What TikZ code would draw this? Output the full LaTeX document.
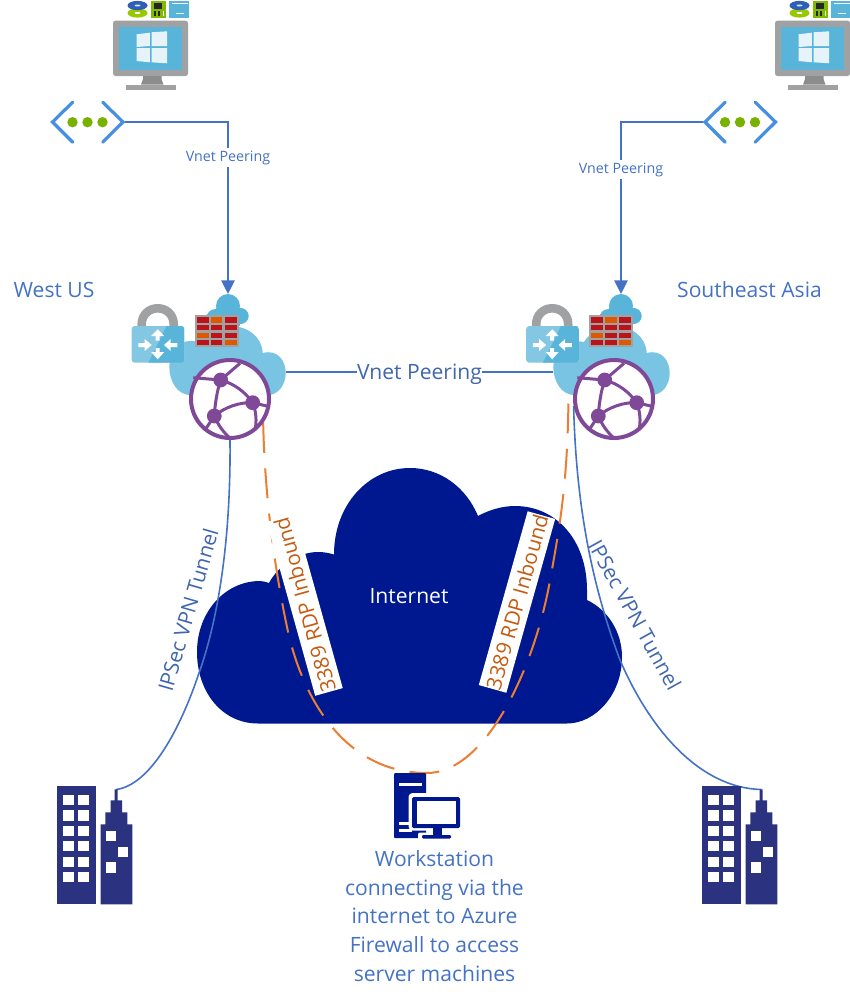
\documentclass[tikz,border=0pt]{standalone}
\usepackage{fontspec}
\setmainfont{Open Sans}
\usetikzlibrary{arrows.meta}

\definecolor{linkblue}{HTML}{4472C4}
\definecolor{textblue}{HTML}{3F66AE}
\definecolor{rdporange}{HTML}{ED7D31}
\definecolor{rdptext}{HTML}{C55A11}
\definecolor{netnavy}{HTML}{00188F}
\definecolor{bldnavy}{HTML}{2B3380}
\definecolor{azsky}{HTML}{59B4D9}
\definecolor{azpale}{HTML}{7AC4E3}
\definecolor{azgrey}{HTML}{A0A1A2}
\definecolor{azgreen}{HTML}{7FBA00}
\definecolor{azpurple}{HTML}{804998}
\definecolor{brickred}{HTML}{BA141A}
\definecolor{brickorange}{HTML}{DD5900}

\def\px{0.2mm}

\tikzset{
  iconspot/.style={inner sep=0pt,outer sep=0pt},
  peertext/.style={fill=white,inner sep=1.5pt,text=linkblue,font=\fontsize{8.1}{10}\selectfont},
  peermain/.style={fill=white,inner sep=0pt,text=textblue,yshift=-1.2pt,font=\fontsize{12}{14}\selectfont},
  regiontext/.style={inner sep=0pt,text=linkblue,font=\fontsize{12}{14}\selectfont},
  tunneltext/.style={inner sep=0pt,text=textblue,font=\fontsize{11.8}{14}\selectfont},
  rdptextbox/.style={fill=white,inner sep=0pt,text=rdptext,minimum width=180*\px,minimum height=28.6*\px,font=\fontsize{11.8}{13}\selectfont},
  peerline/.style={linkblue,line width=2*\px},
  tunnelline/.style={linkblue,line width=1.6*\px},
  rdpline/.style={rdporange,line width=2*\px,dash pattern=on 17pt off 8.8pt},
  vmicon/.pic={
    \fill[azgrey,rounded corners=2.5*\px] (-37.5,-27.3) rectangle (37.5,28);
    \fill[azsky] (-31.7,-21.3) rectangle (31.7,22);
    \fill[white!85!azsky] (-14,-13.7) -- (-0.7,-15.3) -- (-0.7,-2) -- (-14,-1) -- cycle;
    \fill[white!85!azsky] (1,-15.7) -- (16.7,-16.7) -- (16.7,-2) -- (1,-2) -- cycle;
    \fill[white!85!azsky] (-14,0) -- (-0.7,0) -- (-0.7,14.3) -- (-14,13) -- cycle;
    \fill[white!85!azsky] (1,0) -- (16.7,0) -- (16.7,15.3) -- (1,14.3) -- cycle;
    \fill[gray!90] (-7.5,28) -- (11,28) -- (11,31) -- (13,36.7) -- (-9.5,36.7) -- (-7.5,31) -- cycle;
    \fill[azgrey] (-24.5,36.7) rectangle (25.5,42);
    % parts above the monitor
    \fill[azgreen!80!yellow] (-13,-35) ellipse (10 and 4.6);
    \fill[white] (-13,-35) ellipse (3 and 1);
    \fill[blue!35!azsky!80!black] (-13,-42.5) ellipse (10 and 4.6);
    \fill[white!70!azsky] (-13,-42.5) ellipse (3 and 1);
    \fill[azgreen] (0,-47) rectangle (15,-30.3);
    \fill[black!85] (3,-45) rectangle (11,-39);
    \fill[black!85] (3,-37) rectangle (5,-32);
    \fill[black!85] (7.5,-37) rectangle (9,-32);
    \fill[white] (12,-37) rectangle (13.3,-32);
    \fill[azsky] (18,-47) rectangle (38,-30.3);
    \fill[white] (21,-45) rectangle (37,-44);
    \fill[white] (25,-35.5) rectangle (33,-34.7);
  },
  vneticon/.pic={
    \draw[azsky!80!blue,line width=3.2*\px,line cap=round,line join=miter] (-14.8,-19.3) -- (-35,0.5) -- (-14.8,20.7);
    \draw[azsky!80!blue,line width=3.2*\px,line cap=round,line join=miter] (15.2,-19.3) -- (35.5,0.5) -- (15.2,20.7);
    \foreach \dotx in {-15,0,15}
      \fill[azgreen!95!black] (\dotx,0.7) circle [radius=5.2];
  },
  lockicon/.pic={
    \draw[azgrey,line width=8.6*\px] (-16,-17) -- (-16,-20.7) .. controls (-16,-30) and (-9,-36.7) .. (0,-36.7) .. controls (9,-36.7) and (16,-30) .. (16,-20.7) -- (16,-17);
    \fill[azsky!75!white,rounded corners=3*\px] (-26,-19) rectangle (26.6,17.7);
    \begin{scope}
      \clip[rounded corners=3*\px] (-26,-19) rectangle (26.6,17.7);
      \fill[azsky] (-9.4,17.7) -- (8.9,-19) -- (26.6,-19) -- (26.6,17.7) -- cycle;
    \end{scope}
    \fill[white] (0,-15.7) -- (6.5,-9) -- (2,-9) -- (2,-4.5) -- (-2,-4.5) -- (-2,-9) -- (-6.5,-9) -- cycle;
    \fill[white] (0,14.3) -- (6.5,7) -- (2,7) -- (2,3) -- (-2,3) -- (-2,7) -- (-6.5,7) -- cycle;
    \fill[white] (-6,0) -- (-13,-6) -- (-13,-2) -- (-19.3,-2) -- (-19.3,2) -- (-13,2) -- (-13,6) -- cycle;
    \fill[white] (6.3,0) -- (13,-6) -- (13,-2) -- (19.7,-2) -- (19.7,2) -- (13,2) -- (13,6) -- cycle;
  },
  firewallicon/.pic={
    \fill[azgrey] (-22,-16) rectangle (21.7,16.3);
    % rows of bricks
    \foreach \ytop/\ybot/\ca/\cb/\cc in {-13.7/-8.3/brickred/brickorange/brickred,
        -6/-1/brickred/brickred/brickred,
        1.7/7/brickorange/brickred/brickred,
        9/14/brickred/brickred/brickorange}{
      \fill[\ca] (-20,\ytop) rectangle (-8,\ybot);
      \fill[\cb] (-6,\ytop) rectangle (5.3,\ybot);
      \fill[\cc] (7.7,\ytop) rectangle (19.7,\ybot);
    }
  },
  smallcloudicon/.pic={
    \fill[azsky] (0,0) circle [radius=12];
    \fill[azsky] (-12.5,12) circle [radius=9];
    \fill[azsky] (12.7,10) circle [radius=8];
    \fill[azsky] (-12,2) rectangle (12,20);
  },
  hubcloudicon/.pic={
    \fill[azpale] (-40,-4) .. controls (-52,-4) and (-60.7,-17) .. (-60.7,-32) .. controls (-60.7,-46) and (-52,-58) .. (-40,-58) .. controls (-36,-58) and (-33,-57.5) .. (-30,-57) .. controls (-24,-67) and (-12,-73) .. (0,-73) .. controls (18,-73) and (32,-62) .. (32.7,-46) .. controls (48,-50) and (55.7,-38) .. (55.7,-26) .. controls (55.7,-14) and (48,-4) .. (38,-4) -- cycle;
  },
  globeicon/.pic={
    \draw[azpurple,fill=white,line width=4*\px] (0,0) circle [radius=39];
    \begin{scope}[azpurple,line width=3*\px]
      \draw (-9.3,-19) -- (-36.7,-21.3);
      \draw (-9.3,-19) -- (10,-35.7);
      \draw (-9.3,-19) .. controls (5,-15) and (15,-7) .. (22.7,3.7);
      \draw (-9.3,-19) .. controls (-13,-8) and (-15,5) .. (-15.7,17);
      \draw (-15.7,17) .. controls (-5,8) and (10,3) .. (22.7,3.7);
      \draw (22.7,3.7) -- (36.7,7);
      \draw (22.7,3.7) .. controls (26,12) and (27,22) .. (25,31);
      \draw (-15.7,17) -- (-25,31);
      \draw (-15.7,17) .. controls (-12,26) and (-6,34) .. (0,39);
    \end{scope}
    \foreach \cx/\cy in {-9.3/-19,22.7/3.7,-15.7/17}
      \fill[azpurple] (\cx,\cy) circle [radius=7.4];
  },
  towericon/.pic={
    \fill[bldnavy] (-37.5,-59.3) rectangle (0.9,59.3);
    \foreach \wy in {-50,-34.7,-19.3,-4,11.7,27}{
      \fill[white] (-31.5,\wy) rectangle ++(10.4,10.3);
      \fill[white] (-16.5,\wy) rectangle ++(10.7,10.3);
    }
    \fill[bldnavy] (5.9,59.3) -- (5.9,-20.7) -- (10.5,-20.7) -- (10.5,-32.7) -- (15.9,-32.7) -- (15.9,-44.7) -- (19.9,-44.7) -- (19.9,-55.7) -- (22.9,-55.7) -- (22.9,-44.7) -- (27.2,-44.7) -- (27.2,-32.7) -- (32.5,-32.7) -- (32.5,-20.7) -- (37.5,-20.7) -- (37.5,59.3) -- cycle;
    \fill[white] (10.9,-14) rectangle (21.2,-3.7);
    \fill[white] (22.9,1.7) rectangle (33.2,12);
    \fill[white] (10.9,17.3) rectangle (21.2,27.7);
  },
  desktopicon/.pic={
    \fill[netnavy,rounded corners=1*\px] (-33,-32.5) rectangle (-1,32.5);
    \fill[white] (-28,-22.5) rectangle (-5,-19.5);
    \fill[white,rounded corners=4*\px] (-18.5,-12.5) rectangle (37,25);
    \fill[white] (-28,16.5) rectangle (-15,19.5);
    \fill[white] (-28,23.5) rectangle (-15,26.5);
    \fill[white,rounded corners=2*\px] (-9,27) rectangle (29,36);
    \fill[netnavy,rounded corners=1.5*\px] (-15,-8.5) rectangle (33,22.5);
    \fill[white] (-10,-4.5) rectangle (29,18.5);
    \fill[netnavy] (6,22.5) rectangle (15,30.5);
    \fill[netnavy,rounded corners=1.2*\px] (-5,29.5) rectangle (24,33);
  }
}

\begin{document}
\begin{tikzpicture}[x=\px,y=-\px]
  \useasboundingbox (0,0) rectangle (850,1000);

% spots for the icons
  \node[iconspot,minimum width=75*\px,minimum height=42*\px] (vnetW) at (87.5,121.5) {};
  \node[iconspot,minimum width=75*\px,minimum height=42*\px] (vnetE) at (740,121.5) {};
  \node[iconspot,circle,minimum size=24*\px] (fwcloudW) at (228,306) {};
  \node[iconspot,circle,minimum size=24*\px] (fwcloudE) at (621,306) {};
  \node[iconspot,minimum width=116.4*\px,minimum height=50*\px] (hubW) at (227.5,372) {};
  \node[iconspot,minimum width=116.4*\px,minimum height=50*\px] (hubE) at (611.4,372) {};
  \node[iconspot,circle,minimum size=82*\px] (globeW) at (230,399) {};
  \node[iconspot,circle,minimum size=82*\px] (globeE) at (614,399) {};
  \node[iconspot,minimum width=66*\px,minimum height=65*\px] (desktop) at (427,805.5) {};
  \coordinate (antennaW) at (116.2,789.5);
  \coordinate (antennaE) at (761.2,789.5);
  \coordinate (rdpE) at (568.5,393);

% internet cloud
  \fill[netnavy] (258,723.5) .. controls (222,723.5) and (197,692) .. (197,652) .. controls (197,612) and (225,581) .. (260,581) .. controls (263,581) and (266,582) .. (269,583) .. controls (278,566) and (298,552) .. (318,552) .. controls (324,552) and (329,553) .. (334,554.5) .. controls (334,505) and (368,468) .. (410,468) .. controls (440,468) and (466,487) .. (478,516) .. controls (489,510) and (502,506) .. (515,506) .. controls (556,506) and (587,540) .. (587,590) -- (587,600) .. controls (608,610) and (622,632) .. (622,657) .. controls (622,695) and (595,723.5) .. (567,723.5) -- cycle;
  \node[regiontext,text=white] (internet) at (409,596) {Internet};

% tunnels to the branch offices
  \draw[tunnelline] (globeW.south) .. controls (231,540) and (218,620) .. (199,673) .. controls (180,730) and (150,785) .. (antennaW);
  \draw[tunnelline] (globeE.190) .. controls (576,500) and (590,580) .. (620,660) .. controls (650,730) and (700,788) .. (antennaE);
  \node[tunneltext,rotate=73.8] (tunnelW) at (188,610) {IPSec VPN Tunnel};
  \node[tunneltext,rotate=-61] (tunnelE) at (635,615) {IPSec VPN Tunnel};

% rdp route over the internet
  \draw[rdpline] (globeW.-36) .. controls (265,500) and (275,570) .. (287,627) .. controls (300,690) and (340,773) .. (desktop.north) .. controls (485,773) and (535,670) .. (551,575) .. controls (560,525) and (568,480) .. (rdpE);
  \node[rdptextbox,rotate=105.6] (rdpW) at (304.7,605) {3389 RDP Inbound};
  \node[rdptextbox,rotate=74.3] (rdpboxE) at (517,602) {3389 RDP Inbound};

% west hub
  \pic at (fwcloudW) {smallcloudicon};
  \pic at (globeW) {hubcloudicon};
  \pic at (157.7,345) {lockicon};
  \pic at (217,331) {firewallicon};
  \pic at (globeW) {globeicon};
% east hub
  \pic at (fwcloudE) {smallcloudicon};
  \pic at (globeE) {hubcloudicon};
  \pic at (552.2,345) {lockicon};
  \pic at (611.4,331) {firewallicon};
  \pic at (globeE) {globeicon};

% peerings
  \draw[peerline,-{Triangle[length=7.8pt,width=7.6pt]}] (vnetW.east) -| node[peertext,pos=0.605] (peerW) {Vnet Peering} (fwcloudW.north);
  \draw[peerline,-{Triangle[length=7.8pt,width=7.6pt]}] (vnetE.west) -| node[peertext,pos=0.64] (peerE) {Vnet Peering} (fwcloudE.north);
  \draw[peerline] (hubW.east) -- node[peermain] (peerMid) {Vnet Peering} (hubE.west);

% spokes
  \pic at (150.5,48) {vmicon};
  \pic at (812.5,48) {vmicon};
  \pic at (vnetW) {vneticon};
  \pic at (vnetE) {vneticon};

% offices and workstation
  \pic at (94.8,845) {towericon};
  \pic at (739.8,845) {towericon};
  \pic at (desktop) {desktopicon};

  \node[regiontext] (west) at (54,290) {West US};
  \node[regiontext] (east) at (749.5,290) {Southeast Asia};
  \node[regiontext,align=center,font=\fontsize{12}{16.3}\selectfont] (worktext) at (434.5,916) {Workstation\\connecting via the\\internet to Azure\\Firewall to access\\server machines};
\end{tikzpicture}
\end{document}
